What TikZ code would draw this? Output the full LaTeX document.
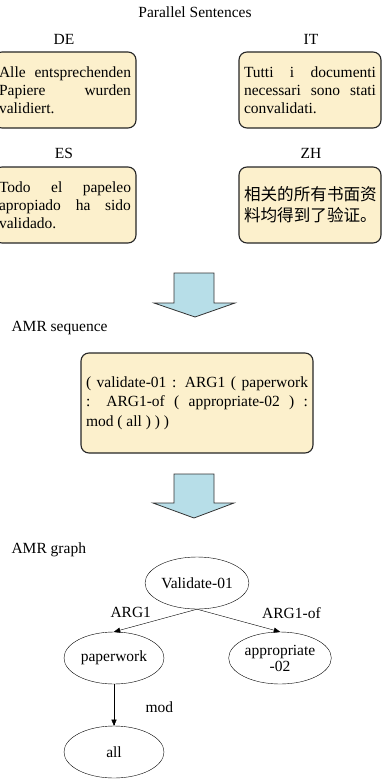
\documentclass[tikz,border=0pt]{standalone}
\usepackage{fontspec}
\setmainfont{Liberation Serif}
\newfontfamily\cjk{Noto Sans CJK SC}
\usetikzlibrary{arrows}
\usetikzlibrary{shapes.geometric}

\definecolor{amarillo}{RGB}{252,240,204}
\definecolor{celeste}{RGB}{183,222,232}

\begin{document}
\begin{tikzpicture}[x=1pt,y=-1pt]
\tikzstyle{caja texto}=[draw=black!85,line width=1.1pt,fill=amarillo,rounded corners=8pt,
  text width=132pt,align=justify,inner sep=5pt,font=\fontsize{15.5}{18}\selectfont]
\tikzstyle{etiqueta}=[font=\fontsize{15.5}{18}\selectfont]
\tikzstyle{nodo amr}=[draw,ellipse,minimum width=100pt,minimum height=52pt,inner sep=1pt,
  align=center,font=\fontsize{15.5}{18}\selectfont]
\tikzstyle{flecha bloque}=[draw=black!80,line width=0.8pt,fill=celeste]

\useasboundingbox (0,0) rectangle (382,781);
\clip (0,0) rectangle (382,781);

% oraciones paralelas
\node[etiqueta] (titulo) at (195,12) {Parallel Sentences};

\node[etiqueta] (lde) at (64,39) {DE};
\node[etiqueta] (lit) at (311,39) {IT};
\node[etiqueta] (les) at (64,153) {ES};
\node[etiqueta] (lzh) at (311,153) {ZH};

\node[caja texto,minimum height=76pt] (de) at (65,90)
  {Alle entsprechenden\linebreak Papiere wurden\linebreak validiert.};
\node[caja texto,minimum height=76pt] (it) at (310,90)
  {Tutti i documenti\linebreak necessari sono stati\linebreak convalidati.};
\node[caja texto,minimum height=76pt] (es) at (65,205)
  {Todo el papeleo\linebreak apropiado ha sido\linebreak validado.};
\node[caja texto,minimum height=76pt,align=left,font=\cjk\fontsize{16.6}{21}\selectfont] (zh) at (310,205)
  {相关的所有书面资\\料均得到了验证。};

\draw[flecha bloque] (174,273) -- (214,273) -- (214,303) -- (235,303) -- (195,317)
  -- (154,303) -- (174,303) -- cycle;

% secuencia AMR
\node[etiqueta,anchor=west] (lseq) at (8,328) {AMR sequence};
\node[caja texto,text width=222pt,minimum height=100pt,font=\fontsize{15.5}{19.5}\selectfont] (seq) at (197,403)
  {( validate-01 : ARG1 ( paperwork\linebreak : ARG1-of ( appropriate-02 ) :\linebreak mod ( all ) ) )};

\draw[flecha bloque] (174,474) -- (214,474) -- (214,503) -- (234,503) -- (194,518)
  -- (153,503) -- (174,503) -- cycle;

% grafo AMR
\node[etiqueta,anchor=west] (lgrafo) at (8,550) {AMR graph};

\node[nodo amr] (v1) at (197,583) {Validate-01};
\node[nodo amr] (v2) at (114,658) {paperwork};
\node[nodo amr] (v3) at (280,658) {appropriate\\[-2pt]-02};
\node[nodo amr] (v4) at (114,752) {all};

\draw[-triangle 45] (v1.south) -- (v2.north) node[etiqueta,pos=0.75,above=5pt,xshift=-4pt] {ARG1};
\draw[-triangle 45] (v1.south) -- (v3.north) node[etiqueta,pos=0.8,above=5pt,xshift=28pt] {ARG1-of};
\draw[-triangle 45] (v2) -- (v4) node[etiqueta,midway,right=28pt,yshift=-2pt] {mod};
\end{tikzpicture}
\end{document}
